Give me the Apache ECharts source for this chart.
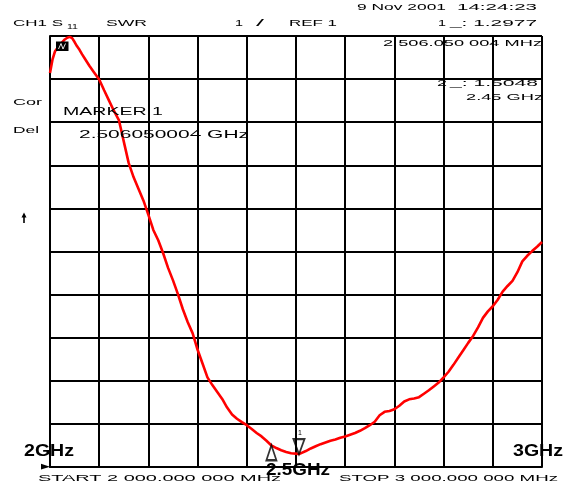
<!DOCTYPE html>
<html><head><meta charset="utf-8">
<script src="https://cdn.jsdelivr.net/npm/echarts@6/dist/echarts.min.js"></script>
<style>html,body{margin:0;padding:0;background:#fff}#c{width:572px;height:486px}</style>
</head><body><div id="c"></div>
<script>
// Frequency (MHz) and SWR readings from the trace
const freqMHz = [2000,2005,2010,2015,2020,2025,2030,2035,2040,2045,2050,2055,2060,2065,2070,2080,2090,2100,2110,2120,2130,2140,2150,2160,2170,2180,2190,2200,2210,2220,2230,2240,2250,2260,2270,2280,2290,2300,2310,2320,2330,2340,2350,2360,2370,2380,2390,2400,2410,2420,2430,2440,2450,2460,2470,2480,2490,2500,2506,2510,2520,2530,2540,2550,2560,2570,2580,2590,2600,2610,2620,2630,2640,2650,2660,2670,2680,2690,2700,2710,2720,2730,2740,2750,2760,2770,2780,2790,2800,2810,2820,2830,2840,2850,2860,2870,2880,2890,2900,2910,2920,2930,2940,2950,2960,2970,2980,2990,3000];
const swr = [10.14,10.45,10.64,10.72,10.79,10.86,10.92,10.96,10.98,10.95,10.86,10.76,10.68,10.58,10.49,10.31,10.15,9.99,9.74,9.50,9.26,9.05,8.55,8.05,7.72,7.45,7.18,6.85,6.50,6.26,5.96,5.62,5.33,5.01,4.66,4.36,4.10,3.72,3.40,3.08,2.90,2.74,2.58,2.38,2.22,2.12,2.04,1.97,1.88,1.79,1.71,1.61,1.50,1.44,1.39,1.35,1.32,1.31,1.30,1.32,1.37,1.43,1.48,1.53,1.57,1.61,1.64,1.68,1.71,1.75,1.79,1.84,1.90,1.97,2.05,2.20,2.28,2.30,2.34,2.42,2.52,2.57,2.59,2.62,2.70,2.78,2.87,2.96,3.08,3.21,3.37,3.54,3.71,3.88,4.04,4.24,4.46,4.61,4.73,4.88,5.07,5.20,5.32,5.52,5.77,5.90,6.01,6.11,6.22];
// Markers
const markerFreqs = [2506.05, 2450];
const markerVals = [1.2977, 1.5048];
const markerNames = ['1', '2'];
// Axis ranges
const xRange = [2000, 3000, 100];
const yRange = [1, 11, 1];
// Texts
const headerTexts = ['9 Nov 2001', '14:24:23', 'CH1 S', '11', 'SWR', '1', '/', 'REF 1', '1', '_: 1.2977',
  '2 506.050 004 MHz', '2', '_: 1.5048', '2.45 GHz', 'Cor', 'Del', 'MARKER 1', '2.506050004 GHz'];
const footerTexts = ['START 2 000.000 000 MHz', 'STOP 3 000.000 000 MHz', '2GHz', '3GHz', '2.5GHz'];

// layout for texts: [left, right, centerY, size, weight]
const headerLayout = [
  [357,446,8,9],[457,537,8,9],[13,63,24,9],[67,78,27.5,7],[106,147,24,9],[235,243,24,9],[256,264,24,9],
  [289,337,24,9],[438,446,24,9],[450,537,24,9],[383,542,44,9],[437,447,84,9],[450,538,84,9],[466,543,97.5,9],
  [13,42,103,9],[13,39,131,9],[63,163,112,11],[79,249,135,11]
];
const footerLayout = [[38,281,479,9],[339,558,479,9],[24,74,452,16,'bold'],[513,563,452,16,'bold'],[266,330,471,16,'bold']];

const ctx = document.createElement('canvas').getContext('2d');
function fitText(str, L, z) {
  const font = (L[4] || 'normal') + ' ' + L[3] + 'px "Liberation Sans", Arial, sans-serif';
  ctx.font = font;
  const w = ctx.measureText(str).width;
  return {type: 'text', x: L[0], y: L[2], scaleX: (L[1] - L[0]) / w, scaleY: 1, originX: 0, originY: 0, z: z || 100,
    style: {text: str, font: font, fill: '#000', textAlign: 'left', textVerticalAlign: 'middle', align: 'left', verticalAlign: 'middle'}};
}

const chart = echarts.init(document.getElementById('c'), null, {renderer: 'canvas'});
const graphics = [];
headerTexts.forEach((t, i) => graphics.push(fitText(t, headerLayout[i], 100)));
footerTexts.forEach((t, i) => graphics.push(fitText(t, footerLayout[i], i >= 2 ? 110 : 100)));
// marker box near top-left
graphics.push({type: 'rect', shape: {x: 56, y: 41.5, width: 12.5, height: 9.5}, style: {fill: '#000'}, z: 120});
graphics.push({type: 'polyline', shape: {points: [[58.5, 49], [61, 43.5], [63, 49], [65.5, 43.5]]}, style: {stroke: '#fff', lineWidth: 0.9, fill: null}, z: 121});
// reference position arrow (bottom-left)
graphics.push({type: 'polygon', shape: {points: [[41, 463.8], [50, 466.8], [41, 469.4]]}, style: {fill: '#000'}, z: 120});
// up arrow at left
graphics.push({type: 'line', shape: {x1: 24, y1: 215, x2: 24, y2: 223}, style: {stroke: '#000', lineWidth: 1.6}, z: 120});
graphics.push({type: 'polygon', shape: {points: [[21.5, 217.5], [24, 212.5], [26.5, 217.5]]}, style: {fill: '#000'}, z: 120});

const option = {
  animation: false,
  backgroundColor: '#fff',
  grid: {left: 50, right: 30, top: 36, bottom: 19, containLabel: false, outerBoundsMode: 'none'},
  xAxis: {type: 'value', min: xRange[0], max: xRange[1], interval: xRange[2],
    axisLabel: {show: false}, axisTick: {show: false},
    axisLine: {show: true, lineStyle: {color: '#000', width: 2}},
    splitLine: {show: true, showMinLine: true, showMaxLine: true, lineStyle: {color: '#000', width: 2}}},
  yAxis: {type: 'value', min: yRange[0], max: yRange[1], interval: yRange[2],
    axisLabel: {show: false}, axisTick: {show: false},
    axisLine: {show: true, lineStyle: {color: '#000', width: 2}},
    splitLine: {show: true, showMinLine: true, showMaxLine: true, lineStyle: {color: '#000', width: 2}}},
  series: [
    {type: 'line', data: freqMHz.map((f, i) => [f, swr[i]]), showSymbol: false, symbol: 'none',
      lineStyle: {color: '#ff0000', width: 2.6}, z: 5, silent: true},
    {type: 'scatter', data: [[markerFreqs[0], markerVals[0]]], symbol: 'triangle', symbolRotate: 180,
      symbolSize: [11, 15], symbolOffset: [0, -7.5],
      itemStyle: {color: 'rgba(0,0,0,0)', borderColor: '#000', borderWidth: 2}, z: 6},
    {type: 'scatter', data: [[markerFreqs[1], markerVals[1]]], symbol: 'triangle',
      symbolSize: [10, 15], symbolOffset: [0, 7.5],
      itemStyle: {color: 'rgba(0,0,0,0)', borderColor: '#000', borderWidth: 2}, z: 6}
  ],
  graphic: graphics
};
chart.setOption(option);

// marker number labels placed through the chart's scales
const p1 = chart.convertToPixel({gridIndex: 0}, [markerFreqs[0], markerVals[0]]);
const p2 = chart.convertToPixel({gridIndex: 0}, [markerFreqs[1], markerVals[1]]);
graphics.push({type: 'text', x: p1[0] + 1, y: p1[1] - 21, z: 120,
  style: {text: markerNames[0], font: '7px "Liberation Sans", Arial', fill: '#000', textAlign: 'center', textVerticalAlign: 'middle', align: 'center', verticalAlign: 'middle'}});
graphics.push({type: 'text', x: p2[0], y: p2[1] + 21, z: 105,
  style: {text: markerNames[1], font: '7px "Liberation Sans", Arial', fill: '#000', textAlign: 'center', textVerticalAlign: 'middle', align: 'center', verticalAlign: 'middle'}});
chart.setOption({graphic: graphics});
</script></body></html>
